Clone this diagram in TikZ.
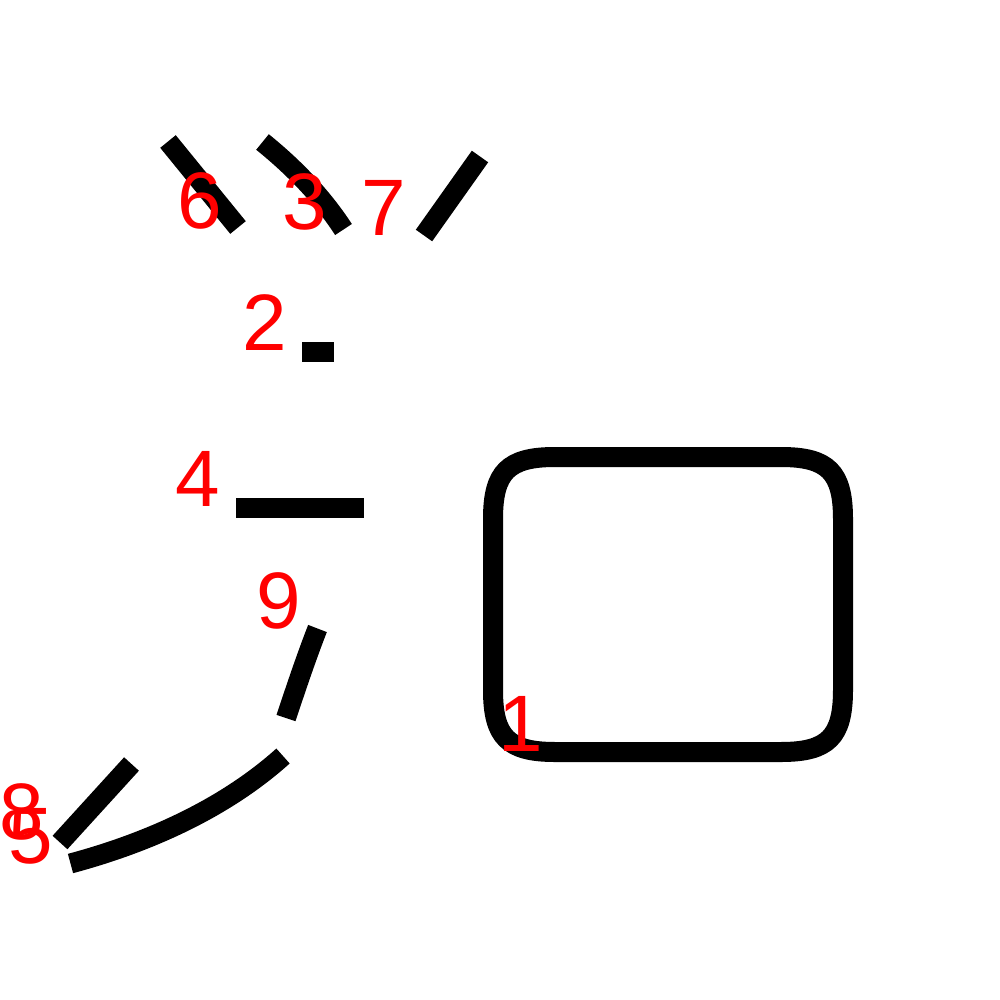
\documentclass[tikz,border=0pt]{standalone}
\usepackage{fontspec}
\setmainfont{Liberation Sans}
\tikzset{
	stroke/.style={line width=0.2cm, color=black},
	num/.style={text=red, inner sep=0pt, font=\fontsize{22.76}{27}\selectfont}
}
\def\softbox[#1](#2,#3)(#4,#5){\draw[#1] ({#2+62}, #3) -- ({#4-62}, #3) .. controls ({#4-15}, #3) and (#4, {#3+15}) .. (#4, {#3+62}) -- (#4, {#5-62}) .. controls (#4, {#5-15}) and ({#4-15}, #5) .. ({#4-62}, #5) -- ({#2+62}, #5) .. controls ({#2+15}, #5) and (#2, {#5-15}) .. (#2, {#5-62}) -- (#2, {#3+62}) .. controls (#2, {#3+15}) and ({#2+15}, #3) .. cycle;}

\begin{document}
\begin{tikzpicture}[x=0.01cm, y=-0.01cm]
			%%%%% START %%%%%
			\useasboundingbox (0, 0) rectangle (1000, 1000);
			
			\softbox[stroke](493, 457)(843, 752);
			\node[num] (n1) at (521, 724) {1};
			
			\draw[stroke] (302, 352) -- (334, 352);
			\node[num] (n2) at (265, 323) {2};
			
			\draw[stroke] (262.5, 142) .. controls (293.5, 167) and (321.7, 196) .. (343.5, 229.5);
			\node[num] (n3) at (305, 202) {3};
			
			\draw[stroke] (236, 508) -- (364, 508);
			\node[num] (n4) at (198, 479) {4};
			
			\draw[stroke] (70.5, 863.5) .. controls (146.8, 843.1) and (224.3, 808.9) .. (283, 756);
			\node[num] (n5) at (31, 836) {5};
			
			\draw[stroke] (168, 141.5) -- (238, 227.5);
			\node[num] (n6) at (200, 201) {6};
			
			\draw[stroke] (424, 235.5) -- (480, 156.5);
			\node[num] (n7) at (384, 208) {7};
			
			\draw[stroke] (60, 842.5) -- (131.5, 764);
			\node[num] (n8) at (22, 812) {8};
			
			\draw[stroke] (317.5, 628.5) .. controls (306, 658) and (296, 688) .. (286, 718);
			\node[num] (n9) at (279, 601) {9};
			
			%%%%% END %%%%%
\end{tikzpicture}
\end{document}
